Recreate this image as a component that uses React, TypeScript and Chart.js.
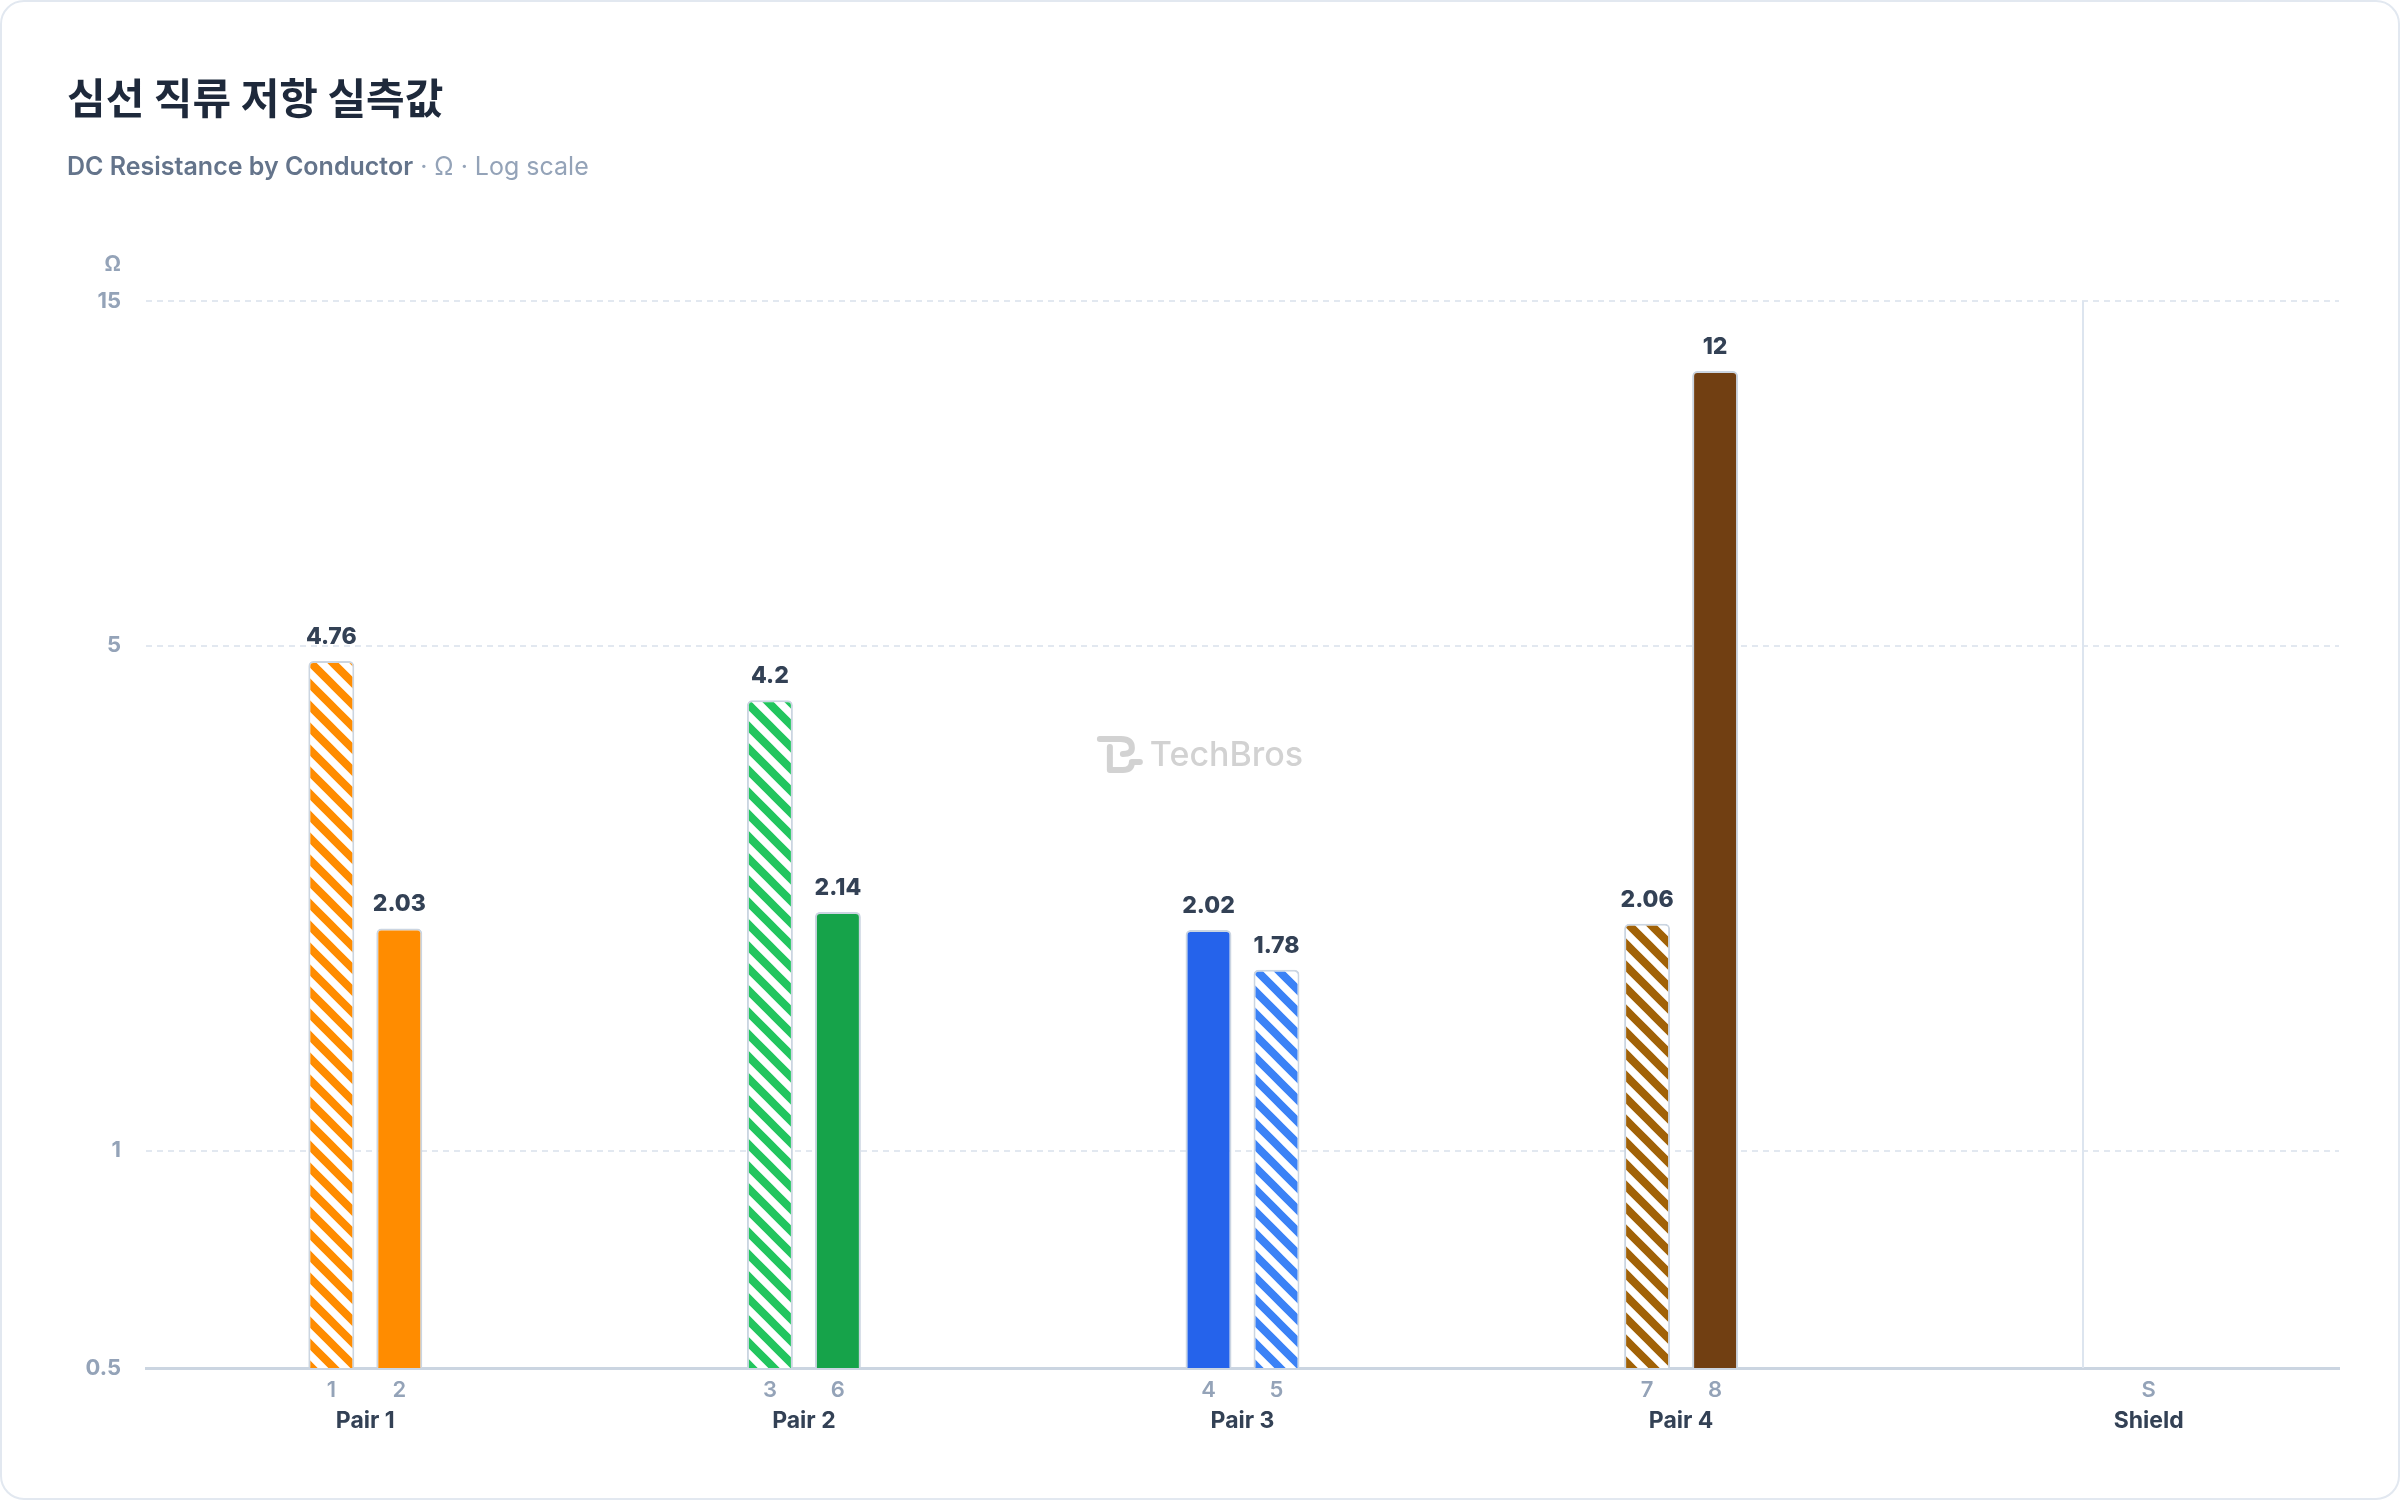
import React, { useEffect, useRef } from 'react';
import { Chart, registerables } from 'chart.js';

Chart.register(...registerables);

const groups = ['Pair 1', 'Pair 2', 'Pair 3', 'Pair 4', 'Shield'];
const conductorsA = ['1', '3', '4', '7', ''];
const conductorsB = ['2', '6', '5', '8', 'S'];
const resistanceA: (number | null)[] = [4.76, 4.2, 2.02, 2.06, null];
const resistanceB: (number | null)[] = [2.03, 2.14, 1.78, 12, null];
const colorsA = ['#ff8c00', '#22c55e', '#2563eb', '#a16207', '#94a3b8'];
const colorsB = ['#ff8c00', '#16a34a', '#3b82f6', '#713f12', '#94a3b8'];
const stripedA = [true, true, false, true, false];
const stripedB = [false, false, true, false, false];
const yTicks = [0.5, 1, 5, 15];

const FONT = "Inter, 'Noto Sans CJK KR', sans-serif";

export default function App() {
  const ref = useRef<HTMLCanvasElement>(null);

  useEffect(() => {
    document.body.style.margin = '0';
    const canvas = ref.current!;
    const ctx = canvas.getContext('2d')!;

    const makeHatch = (color: string) => {
      const s = 22;
      const c = document.createElement('canvas');
      c.width = s;
      c.height = s;
      const g = c.getContext('2d')!;
      g.fillStyle = '#ffffff';
      g.fillRect(0, 0, s, s);
      g.strokeStyle = color;
      g.lineWidth = 8;
      g.beginPath();
      for (const o of [-s, 0, s]) {
        g.moveTo(o - 4, -4);
        g.lineTo(o + s + 4, s + 4);
      }
      g.stroke();
      return ctx.createPattern(c, 'repeat') as CanvasPattern;
    };

    const fillsA = colorsA.map((c, i) => (stripedA[i] ? makeHatch(c) : c));
    const fillsB = colorsB.map((c, i) => (stripedB[i] ? makeHatch(c) : c));

    const overlay = {
      id: 'overlay',
      beforeDatasetsDraw(chart: any) {
        const { ctx: c, chartArea } = chart;
        // separator before shield group
        const sep = chart.getDatasetMeta(0).data[groups.length - 1];
        c.save();
        c.strokeStyle = '#dde5ef';
        c.lineWidth = 2;
        c.beginPath();
        c.moveTo(Math.round(sep.x) - 3, chartArea.top);
        c.lineTo(Math.round(sep.x) - 3, chartArea.bottom);
        c.stroke();

        // watermark
        const cx = chart.width / 2;
        const cy = chart.height / 2 + 4;
        const gray = '#d2d2d2';
        c.font = `500 34px Inter, sans-serif`;
        const tw = c.measureText('TechBros').width;
        const iconW = 45;
        const gap = 8;
        const total = iconW + gap + tw;
        const ix = cx - total / 2;
        const iy = cy - 19;
        c.strokeStyle = gray;
        c.lineWidth = 6;
        c.lineCap = 'round';
        c.lineJoin = 'round';
        c.beginPath();
        c.moveTo(ix + 3, iy + 4);
        c.lineTo(ix + 24, iy + 4);
        c.quadraticCurveTo(ix + 35, iy + 4, ix + 35, iy + 13);
        c.quadraticCurveTo(ix + 35, iy + 19, ix + 26, iy + 19);
        c.moveTo(ix + 13, iy + 12);
        c.lineTo(ix + 13, iy + 35);
        c.lineTo(ix + 26, iy + 35);
        c.quadraticCurveTo(ix + 35, iy + 35, ix + 35, iy + 27);
        c.lineTo(ix + 43, iy + 27);
        c.stroke();
        c.fillStyle = gray;
        c.textAlign = 'left';
        c.textBaseline = 'middle';
        c.fillText('TechBros', ix + iconW + gap, cy + 2);
        c.restore();
      },
      afterDatasetsDraw(chart: any) {
        const { ctx: c, chartArea } = chart;
        const metaA = chart.getDatasetMeta(0).data;
        const metaB = chart.getDatasetMeta(1).data;
        c.save();
        // value labels
        c.font = `800 23px ${FONT}`;
        c.fillStyle = '#334155';
        c.textAlign = 'center';
        c.textBaseline = 'alphabetic';
        const drawVal = (el: any, v: number | null) => {
          if (v === null || v === undefined) return;
          c.fillText(String(v), el.x, el.y - 17);
        };
        groups.forEach((_, i) => {
          drawVal(metaA[i], resistanceA[i]);
          drawVal(metaB[i], resistanceB[i]);
        });
        // conductor labels + group labels
        const yCond = chartArea.bottom + 22;
        const yGroup = chartArea.bottom + 53;
        groups.forEach((g, i) => {
          const xs: number[] = [];
          c.font = `600 22px ${FONT}`;
          c.fillStyle = '#94a3b8';
          c.textBaseline = 'middle';
          if (conductorsA[i]) {
            c.fillText(conductorsA[i], metaA[i].x, yCond);
            xs.push(metaA[i].x);
          }
          if (conductorsB[i]) {
            const bx = conductorsA[i] ? metaB[i].x : metaB[i].x - 5;
            c.fillText(conductorsB[i], bx, yCond);
            xs.push(bx);
          }
          const gx = xs.reduce((a, b) => a + b, 0) / xs.length;
          c.font = `700 23px ${FONT}`;
          c.fillStyle = '#334155';
          c.fillText(g, gx, yGroup);
        });
        // unit label
        c.font = `700 21px ${FONT}`;
        c.fillStyle = '#94a3b8';
        c.textAlign = 'right';
        c.fillText('Ω', chartArea.left - 25, chartArea.top - 36);
        c.restore();
      },
    };

    const chart = new Chart(ctx, {
      type: 'bar',
      data: {
        labels: groups,
        datasets: [
          {
            label: 'A',
            data: resistanceA as any,
            backgroundColor: fillsA as any,
            borderColor: '#cbd5e1',
            borderWidth: 2,
            borderRadius: 5,
            categoryPercentage: 0.31,
            barPercentage: 0.676,
          },
          {
            label: 'B',
            data: resistanceB as any,
            backgroundColor: fillsB as any,
            borderColor: '#cbd5e1',
            borderWidth: 2,
            borderRadius: 5,
            categoryPercentage: 0.31,
            barPercentage: 0.676,
          },
        ],
      },
      options: {
        animation: false,
        responsive: true,
        maintainAspectRatio: false,
        layout: { padding: { left: 44, right: 59, top: 299, bottom: 70 } },
        plugins: {
          legend: { display: false },
          tooltip: { enabled: false },
        },
        scales: {
          x: {
            type: 'category',
            grid: { display: false },
            ticks: { display: false },
            border: { display: true, color: '#cbd5e1', width: 3 },
            afterFit: (s: any) => {
              s.height = 60;
            },
          },
          y: {
            type: 'logarithmic',
            min: 0.5,
            max: 15,
            afterBuildTicks: (s: any) => {
              s.ticks = yTicks.map((v) => ({ value: v }));
            },
            afterFit: (s: any) => {
              s.width = 100;
            },
            grid: { color: '#e2e8f0', lineWidth: 2, drawTicks: false },
            border: { display: false, dash: [6, 5] },
            ticks: {
              padding: 25,
              color: '#94a3b8',
              font: { family: FONT, size: 22, weight: 700 as any },
              callback: (v: any) => String(v),
            },
          },
        },
      },
      plugins: [overlay],
    });
    return () => chart.destroy();
  }, []);

  return (
    <div
      style={{
        position: 'relative',
        width: 2400,
        height: 1500,
        boxSizing: 'border-box',
        border: '2px solid #e2e8f0',
        borderRadius: 24,
        background: '#ffffff',
        overflow: 'hidden',
        fontFamily: FONT,
      }}
    >
      <div style={{ position: 'absolute', left: 0, top: 0, width: 2396, height: 1496 }}>
        <canvas ref={ref} />
      </div>
      <div
        style={{
          position: 'absolute',
          left: 65,
          top: 73,
          fontFamily: "'Noto Sans CJK KR', Inter, sans-serif",
          fontWeight: 700,
          fontSize: 42,
          lineHeight: '42px',
          color: '#1e293b',
          whiteSpace: 'nowrap',
        }}
      >
        심선 직류 저항 실측값
      </div>
      <div
        style={{
          position: 'absolute',
          left: 65,
          top: 152,
          fontSize: 25,
          lineHeight: '25px',
          whiteSpace: 'nowrap',
        }}
      >
        <span style={{ fontWeight: 600, color: '#64748b' }}>DC Resistance by Conductor</span>
        <span style={{ fontWeight: 400, color: '#94a3b8' }}> · Ω · Log scale</span>
      </div>
    </div>
  );
}
